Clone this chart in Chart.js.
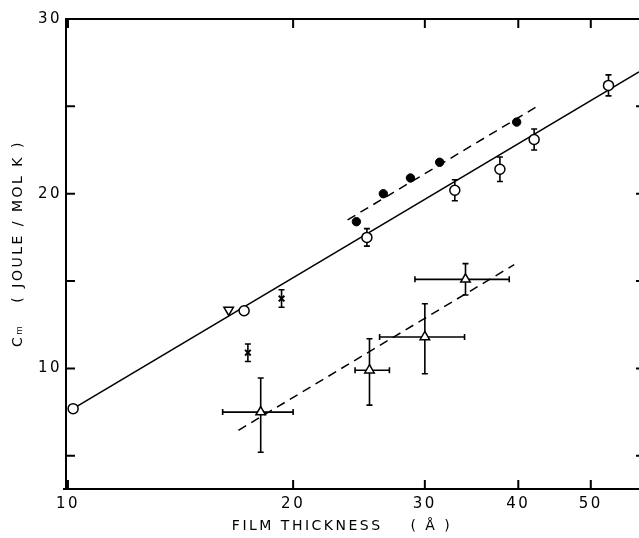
<!DOCTYPE html>
<html>
<head>
<meta charset="utf-8">
<script src="https://cdn.jsdelivr.net/npm/chart.js@4"></script>
<style>
  html, body { margin: 0; padding: 0; background: #fff; overflow: hidden; }
  #wrap { position: relative; width: 639px; height: 538px; }
  #c { display: block; }
</style>
</head>
<body>
<div id="wrap"><canvas id="c"></canvas></div>
<script>
// Molar heat capacity vs film thickness (log x axis)
const xTicks = [10, 20, 30, 40, 50];
const yTicks = [5, 10, 15, 20, 25, 30];

// open circles, solid fit
const openX = [10.16, 17.2, 25.1, 32.9, 37.8, 42.0, 52.8];
const openY = [7.7, 13.3, 17.5, 20.2, 21.4, 23.1, 26.2];
const openErr = [0, 0, 0.5, 0.6, 0.7, 0.6, 0.6];

// filled circles, upper dashed fit
const filledX = [24.3, 26.4, 28.7, 31.4, 39.8];
const filledY = [18.4, 20.0, 20.9, 21.8, 24.1];

// triangles with x/y error ranges, lower dashed fit
const triX = [18.1, 25.3, 30.0, 34.0];
const triY = [7.5, 9.9, 11.8, 15.1];
const triXLo = [16.1, 24.2, 26.1, 29.1];
const triXHi = [20.0, 26.9, 33.9, 38.9];
const triYLo = [5.2, 7.9, 9.7, 14.2];
const triYHi = [9.45, 11.7, 13.7, 16.0];

// crosses
const crossX = [17.4, 19.3];
const crossY = [10.9, 14.0];
const crossErr = [0.5, 0.5];

// inverted triangle
const invX = [16.4];
const invY = [13.35];

// fitted lines
const solidFitX = [10.16, 58];
const solidFitY = [7.7, 26.97];
const upperFitX = [23.65, 42.4];
const upperFitY = [18.5, 25.0];
const lowerFitX = [16.9, 39.5];
const lowerFitY = [6.46, 15.94];

const pts = (xs, ys) => xs.map((x, i) => ({ x: x, y: ys[i] }));
const FONT = 'DejaVu Sans';

const frame = {
  id: 'frame',
  beforeDraw(chart) { chart.ctx.letterSpacing = '2.5px'; },
  beforeDatasetsDraw(chart) {
    const { ctx, chartArea: a, scales: { x, y } } = chart;
    ctx.save();
    ctx.strokeStyle = '#000';
    ctx.lineWidth = 2;
    ctx.beginPath();
    ctx.moveTo(a.left, a.top); ctx.lineTo(a.right, a.top);
    ctx.moveTo(a.left, a.top - 1); ctx.lineTo(a.left, a.bottom);
    ctx.moveTo(a.left - 3, a.bottom); ctx.lineTo(a.right, a.bottom);
    x.ticks.forEach(t => {
      const px = x.getPixelForValue(t.value);
      ctx.moveTo(px, a.bottom); ctx.lineTo(px, a.bottom - 9);
      ctx.moveTo(px, a.top); ctx.lineTo(px, a.top + 9);
    });
    y.ticks.forEach(t => {
      const py = y.getPixelForValue(t.value);
      ctx.moveTo(a.left, py); ctx.lineTo(a.left + 9, py);
      ctx.moveTo(a.right, py); ctx.lineTo(a.right - 3, py);
    });
    ctx.stroke();
    ctx.restore();
  }
};

const errorBars = {
  id: 'errorBars',
  beforeDatasetsDraw(chart) {
    const { ctx, scales: { x, y } } = chart;
    ctx.save();
    ctx.strokeStyle = '#000';
    ctx.lineWidth = 1.6;
    chart.data.datasets.forEach(ds => {
      if (!ds.err) return;
      ds.data.forEach((p, i) => {
        const e = ds.err;
        const px = x.getPixelForValue(p.x), py = y.getPixelForValue(p.y);
        ctx.beginPath();
        let lo = null, hi = null;
        if (e.y) { if (e.y[i]) { lo = p.y - e.y[i]; hi = p.y + e.y[i]; } }
        if (e.yLo) { lo = e.yLo[i]; hi = e.yHi[i]; }
        if (lo !== null) {
          const a = y.getPixelForValue(lo), b = y.getPixelForValue(hi);
          ctx.moveTo(px, a); ctx.lineTo(px, b);
          ctx.moveTo(px - 3, a); ctx.lineTo(px + 3, a);
          ctx.moveTo(px - 3, b); ctx.lineTo(px + 3, b);
        }
        if (e.xLo) {
          const a = x.getPixelForValue(e.xLo[i]), b = x.getPixelForValue(e.xHi[i]);
          ctx.moveTo(a, py); ctx.lineTo(b, py);
          ctx.moveTo(a, py - 3); ctx.lineTo(a, py + 3);
          ctx.moveTo(b, py - 3); ctx.lineTo(b, py + 3);
        }
        ctx.stroke();
      });
    });
    ctx.restore();
  }
};

new Chart(document.getElementById('c'), {
  type: 'scatter',
  data: {
    datasets: [
      { data: pts(openX, openY), err: { y: openErr }, pointStyle: 'circle', pointRadius: 5,
        backgroundColor: '#fff', borderColor: '#000', borderWidth: 1.5 },
      { data: pts(filledX, filledY), pointStyle: 'circle', pointRadius: 4.2,
        backgroundColor: '#000', borderColor: '#000', borderWidth: 1 },
      { data: pts(triX, triY), err: { xLo: triXLo, xHi: triXHi, yLo: triYLo, yHi: triYHi },
        pointStyle: 'triangle', pointRadius: 5.5, backgroundColor: '#fff', borderColor: '#000', borderWidth: 1.5 },
      { data: pts(crossX, crossY), err: { y: crossErr }, pointStyle: 'crossRot', pointRadius: 4,
        borderColor: '#000', borderWidth: 2 },
      { data: pts(invX, invY), pointStyle: 'triangle', rotation: 180, pointRadius: 5.5,
        backgroundColor: '#fff', borderColor: '#000', borderWidth: 1.5 },
      { data: pts(solidFitX, solidFitY), showLine: true, pointRadius: 0, borderColor: '#000', borderWidth: 1.6 },
      { data: pts(upperFitX, upperFitY), showLine: true, pointRadius: 0, borderColor: '#000', borderWidth: 1.5, borderDash: [9, 6] },
      { data: pts(lowerFitX, lowerFitY), showLine: true, pointRadius: 0, borderColor: '#000', borderWidth: 1.5, borderDash: [9, 6] }
    ]
  },
  options: {
    responsive: true,
    maintainAspectRatio: false,
    animation: false,
    devicePixelRatio: 1,
    layout: { autoPadding: false, padding: { top: 19, right: 0, left: 0, bottom: 0 } },
    plugins: { legend: { display: false }, tooltip: { enabled: false } },
    scales: {
      x: {
        type: 'logarithmic', min: 9.94, max: 58,
        afterBuildTicks: s => { s.ticks = xTicks.map(v => ({ value: v })); },
        afterFit: s => { s.height = 49; s.paddingLeft = 0; s.paddingRight = 0; },
        grid: { display: false, drawTicks: false },
        border: { display: false },
        ticks: { callback: v => String(v), color: '#000', font: { family: FONT, size: 15 }, padding: 6, maxRotation: 0, autoSkip: false },
        title: { display: true, text: 'FILM THICKNESS    ( Å )   ', color: '#000', font: { family: FONT, size: 14 }, padding: { top: 0, bottom: 3 } }
      },
      y: {
        min: 3.1, max: 30,
        afterBuildTicks: s => { s.ticks = yTicks.map(v => ({ value: v })); },
        afterFit: s => { s.width = 66; },
        grid: { display: false, drawTicks: false },
        border: { display: false },
        ticks: { callback: v => (v % 10 === 0 ? String(v) : ''), color: '#000', font: { family: FONT, size: 15 }, padding: 4, autoSkip: false },
        title: { display: true, text: '   Cₘ   ( JOULE / MOL K )', color: '#000', font: { family: FONT, size: 14 }, padding: { top: 10, bottom: 0 } }
      }
    }
  },
  plugins: [frame, errorBars]
});
</script>
</body>
</html>
